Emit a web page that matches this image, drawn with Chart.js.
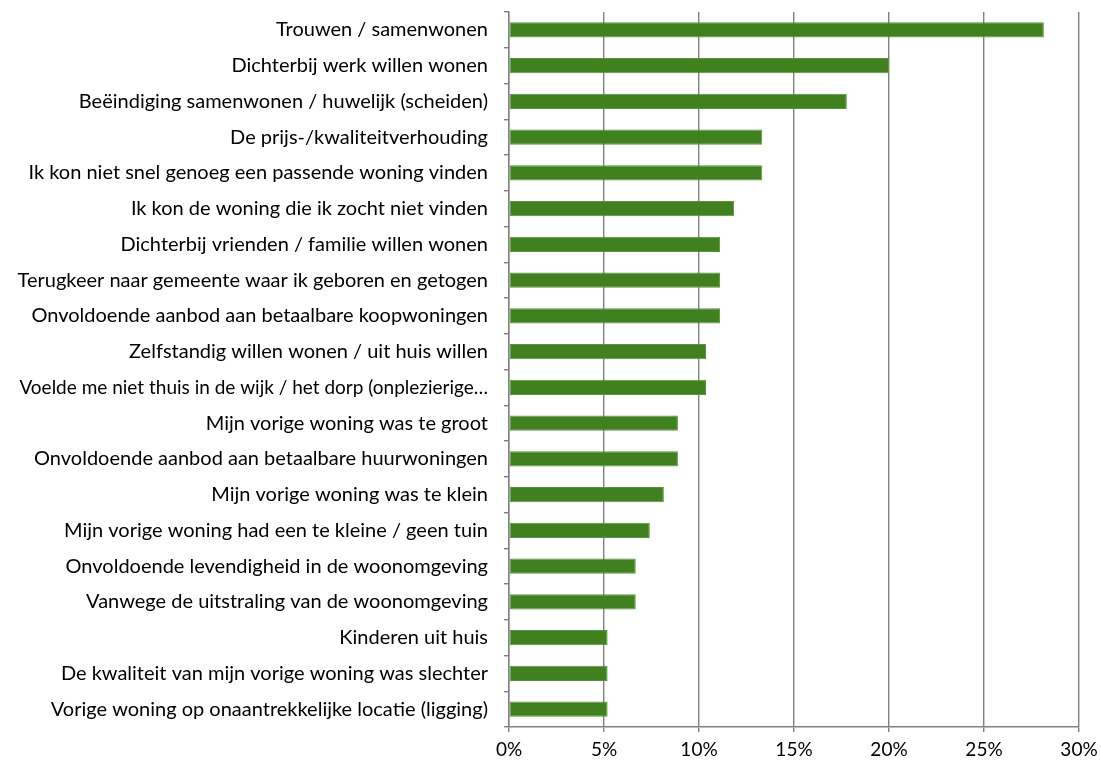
<!DOCTYPE html>
<html>
<head>
<meta charset="utf-8">
<script src="https://cdn.jsdelivr.net/npm/chart.js@4"></script>
<style>
  html, body { margin: 0; padding: 0; background: #fff; }
  #wrap { width: 1101px; height: 763px; }
</style>
</head>
<body>
<div id="wrap"><canvas id="chart" width="1101" height="763"></canvas></div>
<script>
// Reasons for moving, share of respondents (%)
const categories = [
    'Trouwen / samenwonen',
    'Dichterbij werk willen wonen',
    'Beëindiging samenwonen / huwelijk (scheiden)',
    'De prijs-/kwaliteitverhouding',
    'Ik kon niet snel genoeg een passende woning vinden',
    'Ik kon de woning die ik zocht niet vinden',
    'Dichterbij vrienden / familie willen wonen',
    'Terugkeer naar gemeente waar ik geboren en getogen',
    'Onvoldoende aanbod aan betaalbare koopwoningen',
    'Zelfstandig willen wonen / uit huis willen',
    'Voelde me niet thuis in de wijk / het dorp (onplezierige…',
    'Mijn vorige woning was te groot',
    'Onvoldoende aanbod aan betaalbare huurwoningen',
    'Mijn vorige woning was te klein',
    'Mijn vorige woning had een te kleine / geen tuin',
    'Onvoldoende levendigheid in de woonomgeving',
    'Vanwege de uitstraling van de woonomgeving',
    'Kinderen uit huis',
    'De kwaliteit van mijn vorige woning was slechter',
    'Vorige woning op onaantrekkelijke locatie (ligging)'
];
const shares = [28.15, 20.0, 17.78, 13.33, 13.33, 11.85, 11.11, 11.11, 11.11, 10.37,
    10.37, 8.89, 8.89, 8.15, 7.41, 6.67, 6.67, 5.19, 5.19, 5.19];
const xTicks = [0, 5, 10, 15, 20, 25, 30];

const gridColor = '#808080';
const textColor = '#000000';
const fontFamily = "Lato, 'Open Sans', sans-serif";

new Chart(document.getElementById('chart').getContext('2d'), {
    type: 'bar',
    data: {
        labels: categories,
        datasets: [{
            data: shares,
            backgroundColor: '#41801f',
            borderColor: '#5a9340',
            borderWidth: 1,
            borderSkipped: false,
            categoryPercentage: 0.8,
            barPercentage: 0.53
        }]
    },
    options: {
        indexAxis: 'y',
        responsive: false,
        animation: false,
        layout: { padding: { top: 12, right: 22, bottom: 0, left: 0 } },
        plugins: {
            legend: { display: false },
            tooltip: { enabled: false }
        },
        scales: {
            x: {
                min: 0,
                max: 30,
                afterBuildTicks: (axis) => {
                    axis.ticks = xTicks.map(v => ({ value: v }));
                },
                afterFit: (axis) => {
                    axis.height = 36;
                    // right edge is set by layout padding
                    axis.paddingLeft = 0;
                    axis.paddingRight = 0;
                },
                ticks: {
                    color: textColor,
                    font: { family: fontFamily, size: 19 },
                    padding: 6,
                    maxRotation: 0,
                    callback: (value) => value + '%'
                },
                grid: {
                    color: gridColor,
                    lineWidth: 1.4,
                    tickLength: 5
                },
                border: { color: gridColor, width: 1.4 }
            },
            y: {
                afterFit: (axis) => {
                    axis.width = 509;
                    // labels sit inside the category bands, no extra room needed
                    axis.paddingTop = 0;
                    axis.paddingBottom = 0;
                },
                ticks: {
                    color: textColor,
                    // the truncated label is a bit long in this font
                    font: (ctx) => ({ family: fontFamily, size: ctx.index === 10 ? 19 : 20 }),
                    padding: 16,
                    autoSkip: false
                },
                grid: {
                    offset: true,
                    drawOnChartArea: false,
                    color: gridColor,
                    lineWidth: 1.4,
                    tickLength: 5
                },
                border: { color: gridColor, width: 1.4 }
            }
        }
    }
});
</script>
</body>
</html>
